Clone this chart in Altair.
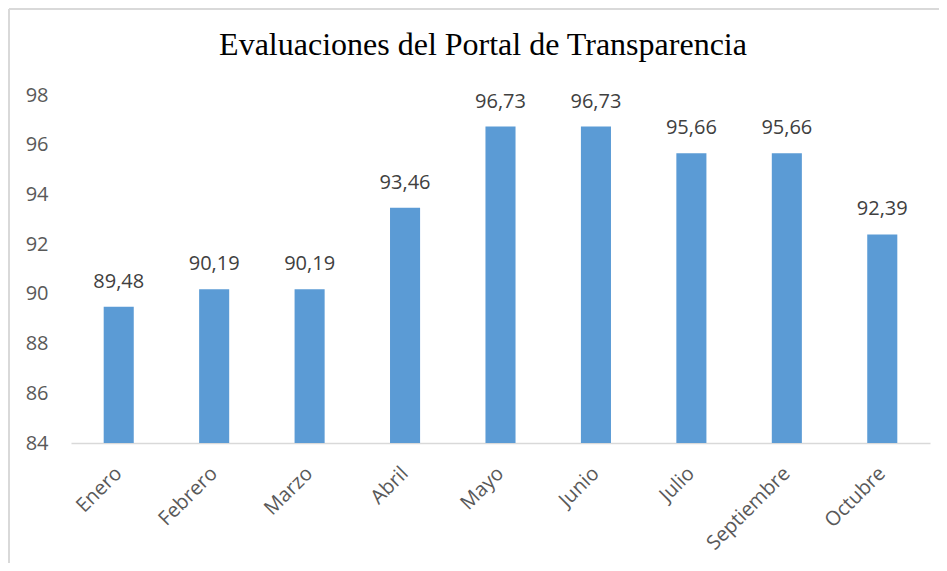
import altair as alt
import pandas as pd

months = ["Enero", "Febrero", "Marzo", "Abril", "Mayo", "Junio", "Julio", "Septiembre", "Octubre"]
values = [89.48, 90.19, 90.19, 93.46, 96.73, 96.73, 95.66, 95.66, 92.39]
labels = [f"{v:.2f}".replace(".", ",") for v in values]
y_ticks = [84, 86, 88, 90, 92, 94, 96, 98]
title_text = ["Evaluaciones del Portal de Transparencia"]

df = pd.DataFrame({"mes": months, "valor": values, "etiqueta": labels})
df_title = pd.DataFrame({"t": title_text})

x = alt.X("mes:N", sort=months, title=None,
          scale=alt.Scale(paddingInner=0.685, paddingOuter=0.3425),
          axis=alt.Axis(labelAngle=-45, labelAlign="right", labelBaseline="middle",
                        labelPadding=27, labelFontSize=20, labelFont="Open Sans",
                        labelColor="#595959", ticks=False, domainColor="#d9d9d9",
                        domainWidth=1.5))
y = alt.Y("valor:Q", title=None,
          scale=alt.Scale(domain=[84, 98], zero=False, nice=False),
          axis=alt.Axis(values=y_ticks, grid=False, domain=False, ticks=False,
                        labelFontSize=20, labelFont="Open Sans", labelColor="#595959",
                        labelPadding=23))

bars = alt.Chart(df).mark_bar(color="#5B9BD5").encode(x=x, y=y, y2=alt.datum(84))

text = alt.Chart(df).mark_text(font="Open Sans", fontSize=20, color="#404040",
                               baseline="alphabetic", dy=-19).encode(
    x=x, y=y, text="etiqueta:N")

title = alt.Chart(df_title).mark_text(font="Liberation Serif", fontSize=32,
                                      color="#000000", baseline="alphabetic",
                                      align="center").encode(
    x=alt.value(412), y=alt.value(-40), text="t:N")

frame_left = alt.Chart(df_title).mark_rule(color="#d9d9d9", strokeWidth=2).encode(
    x=alt.value(-62), y=alt.value(-86), y2=alt.value(470))
frame_top = alt.Chart(df_title).mark_rule(color="#d9d9d9", strokeWidth=2).encode(
    x=alt.value(-62), x2=alt.value(880), y=alt.value(-86))

chart = alt.layer(frame_left, frame_top, title, bars, text).properties(
    width=859, height=348,
    autosize=alt.AutoSizeParams(type="none"),
    padding={"left": 63, "top": 87, "right": 9, "bottom": 120},
).configure_view(stroke=None)

chart.save("out.html", embed_options={"renderer": "svg", "actions": False})
